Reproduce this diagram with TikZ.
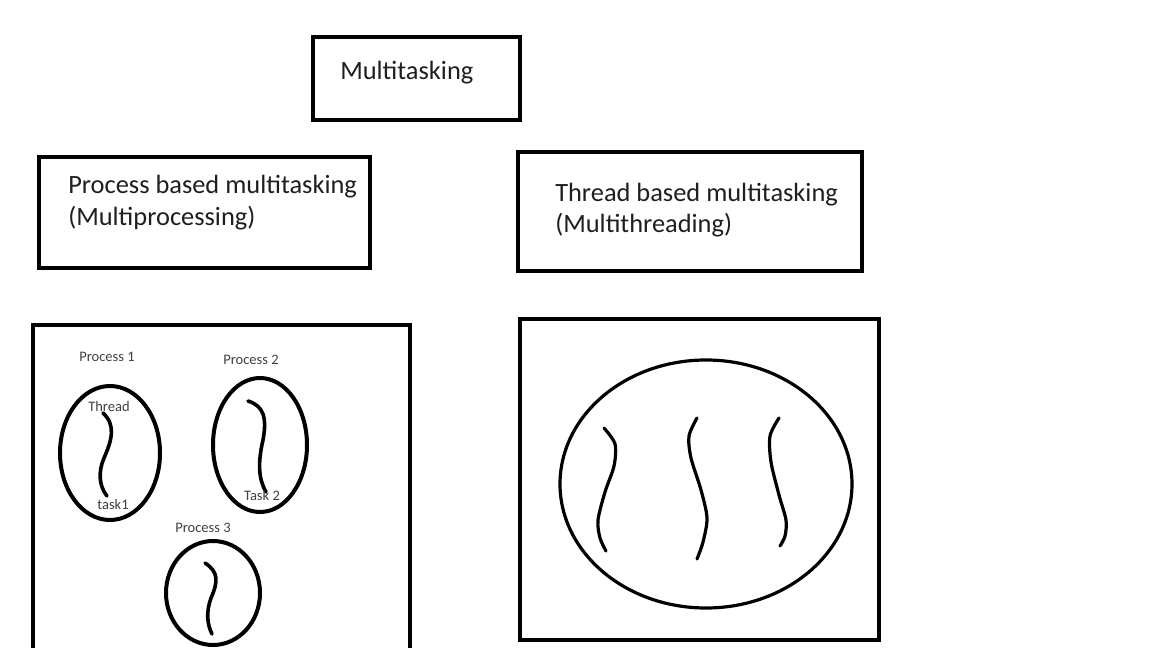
\documentclass[tikz,border=0pt]{standalone}
\usepackage{fontspec}
\setmainfont{Carlito}
\begin{document}
\begin{tikzpicture}[x=0.75pt,y=-0.75pt,
  box/.style={line width=3pt},
  blob/.style={line width=3pt},
  thr/.style={line width=2.7pt,line cap=round},
  big/.style={font=\fontsize{19.8}{24}\selectfont,text=black!88,inner sep=0pt,anchor=base west},
  small/.style={font=\fontsize{10.9}{13}\selectfont,text=black!75,inner sep=0pt,anchor=base},
]
\clip (0,0) rectangle (1152,648);
\fill[white] (0,0) rectangle (1152,648);
% boxes
\draw[box] (313,37) rectangle (520,120);
\draw[box] (39,157) rectangle (370,268);
\draw[box] (518,152) rectangle (862,271);
\draw[box] (33,325) rectangle (410,670);
\draw[box] (520,319) rectangle (879,640);
% titles
\node[big] (mt) at (340,80) {Multitasking};
\node[big] (pb1) at (68,194) {Process based multitasking};
\node[big] (pb2) at (68,226) {(Multiprocessing)};
\node[big] (tb1) at (555,202) {Thread based multitasking};
\node[big] (tb2) at (555,233) {(Multithreading)};
% processes
\draw[blob] (110,453) ellipse [x radius=50, y radius=67];
\draw[blob] (260,445) ellipse [x radius=47, y radius=67];
\draw[blob] (213,593) ellipse [x radius=47, y radius=52];
\draw[thr] (103,413) .. controls (116,425) and (112,440) .. (104,458) .. controls (98,472) and (99,486) .. (107,496);
\draw[thr] (248,401) .. controls (264,406) and (267,418) .. (263,440) .. controls (258,462) and (258,478) .. (266,492);
\draw[thr] (205,563) .. controls (219,572) and (218,582) .. (211,598) .. controls (206,612) and (207,624) .. (212,634);
\node[small] (p1) at (107,362) {Process 1};
\node[small] (p2) at (251,364) {Process 2};
\node[small] (p3) at (203,532) {Process 3};
\node[small] (th) at (109,411) {Thread};
\node[small] (t1) at (113,509) {task1};
\node[small] (t2) at (262,500) {Task 2};
% multithreading
\draw[line width=2.4pt] (706,484) ellipse [x radius=146, y radius=124];
\draw[thr,line width=2.4pt] plot[smooth] coordinates {(604,428) (615,444) (614,466) (605,492) (598,520) (600,538) (606,551)};
\draw[thr,line width=2.4pt] plot[smooth] coordinates {(697,418) (689,436) (691,458) (701,490) (707,518) (703,542) (697,559)};
\draw[thr,line width=2.4pt] plot[smooth] coordinates {(779,418) (770,436) (771,462) (779,495) (786,520) (785,536) (780,546)};
\end{tikzpicture}
\end{document}
